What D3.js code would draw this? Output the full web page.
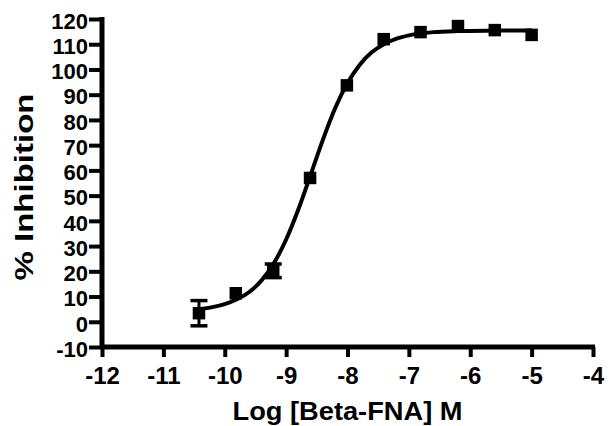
<!DOCTYPE html>
<html>
<head>
<meta charset="utf-8">
<script src="https://cdn.jsdelivr.net/npm/d3@7"></script>
<style>
  body { margin: 0; background: #fff; }
  text { font-family: "Liberation Sans", Arial, sans-serif; font-weight: bold; fill: #000; }
</style>
</head>
<body>
<svg id="chart" width="614" height="426"></svg>
<script>
// measured points (log molar, % inhibition)
const logConc = [-10.42, -9.82, -9.21, -8.61, -8.01, -7.41, -6.81, -6.2, -5.6, -5.0]
const inhibition = [3.4, 11.3, 20.2, 57.0, 93.7, 112.0, 114.8, 117.2, 115.6, 113.7]
const sem = [5.0, 0, 2.7, 0, 0, 0, 0, 0, 0, 0]

// fitted curve
const curveX = [-10.42, -10.2, -10.0, -9.8, -9.6, -9.4, -9.2, -9.0, -8.8, -8.6, -8.4, -8.2, -8.0, -7.8, -7.6, -7.4, -7.2, -7.0, -6.6, -6.2, -5.6, -5.0]
const curveY = [5.0, 5.8, 7.0, 8.9, 11.8, 16.4, 23.2, 32.6, 44.6, 58.3, 72.2, 84.7, 94.6, 101.9, 106.9, 110.1, 112.2, 113.5, 114.8, 115.2, 115.4, 115.5]

const xTicks = [-12, -11, -10, -9, -8, -7, -6, -5, -4]
const yTicks = [-10, 0, 10, 20, 30, 40, 50, 60, 70, 80, 90, 100, 110, 120]

const svg = d3.select('#chart')

const x = d3.scaleLinear().domain([-12, -4]).range([102, 593])
const y = d3.scaleLinear().domain([-10, 120]).range([347, 19])

// plain hyphen labels, not the unicode minus
const fmt = d => String(d)

// axes
let xAxis = svg.append('g')
    .attr('transform', 'translate(0,' + y(-10) + ')')
    .call(d3.axisBottom(x).tickValues(xTicks).tickSize(10).tickFormat(fmt))

let yAxis = svg.append('g')
    .attr('transform', 'translate(' + x(-12) + ',0)')
    .call(d3.axisLeft(y).tickValues(yTicks).tickSize(13).tickPadding(1).tickFormat(fmt))

for (const ax of [xAxis, yAxis]) {
    ax.select('.domain').attr('stroke', '#000').attr('stroke-width', 5)
    ax.selectAll('.tick line').attr('stroke', '#000').attr('stroke-width', 4)
    ax.selectAll('.tick text')
        .attr('font-family', '"Liberation Sans", Arial, sans-serif')
        .attr('font-weight', 'bold')
        .attr('fill', '#000')
}
xAxis.select('.domain').attr('d', 'M' + (x(-12) - 2) + ',0H' + (x(-4) + 2))
yAxis.select('.domain').attr('d', 'M0,' + (y(120) - 2) + 'V' + (y(-10) + 2))

xAxis.selectAll('.tick text')
    .attr('font-size', 24)
    .attr('dy', 0)
    .attr('y', 37)
yAxis.selectAll('.tick text')
    .attr('font-size', 22)
    .attr('dy', '0.42em')

// titles
svg.append('text')
    .attr('x', (x(-12) + x(-4)) / 2)
    .attr('y', 420)
    .attr('text-anchor', 'middle')
    .attr('font-size', 25)
    .attr('textLength', 230)
    .attr('lengthAdjust', 'spacingAndGlyphs')
    .text('Log [Beta-FNA] M')

svg.append('text')
    .attr('transform', 'translate(33,187) rotate(-90)')
    .attr('text-anchor', 'middle')
    .attr('font-size', 25)
    .attr('textLength', 187)
    .attr('lengthAdjust', 'spacingAndGlyphs')
    .text('% Inhibition')

// fit curve
const line = d3.line()
    .x((d, i) => x(curveX[i]))
    .y(d => y(d))
    .curve(d3.curveMonotoneX)

svg.append('path')
    .datum(curveY)
    .attr('d', line)
    .attr('fill', 'none')
    .attr('stroke', '#000')
    .attr('stroke-width', 4)

// error bars
const pts = logConc.map((d, i) => ({x: d, y: inhibition[i], e: sem[i]}))
const bars = svg.append('g').selectAll('g')
    .data(pts.filter(d => d.e > 0))
    .join('g')

bars.append('line')
    .attr('x1', d => x(d.x)).attr('x2', d => x(d.x))
    .attr('y1', d => y(d.y + d.e)).attr('y2', d => y(d.y - d.e))
    .attr('stroke', '#000').attr('stroke-width', 3)
bars.selectAll('line.cap')
    .data(d => [d.y + d.e, d.y - d.e].map(v => ({x: d.x, v: v})))
    .join('line')
    .attr('class', 'cap')
    .attr('x1', d => x(d.x) - 8.5).attr('x2', d => x(d.x) + 8.5)
    .attr('y1', d => y(d.v)).attr('y2', d => y(d.v))
    .attr('stroke', '#000').attr('stroke-width', 3.5)

// markers
svg.append('g').selectAll('rect')
    .data(pts)
    .join('rect')
    .attr('x', d => x(d.x) - 6.25)
    .attr('y', d => y(d.y) - 6.25)
    .attr('width', 12.5)
    .attr('height', 12.5)
    .attr('fill', '#000')
</script>
</body>
</html>
